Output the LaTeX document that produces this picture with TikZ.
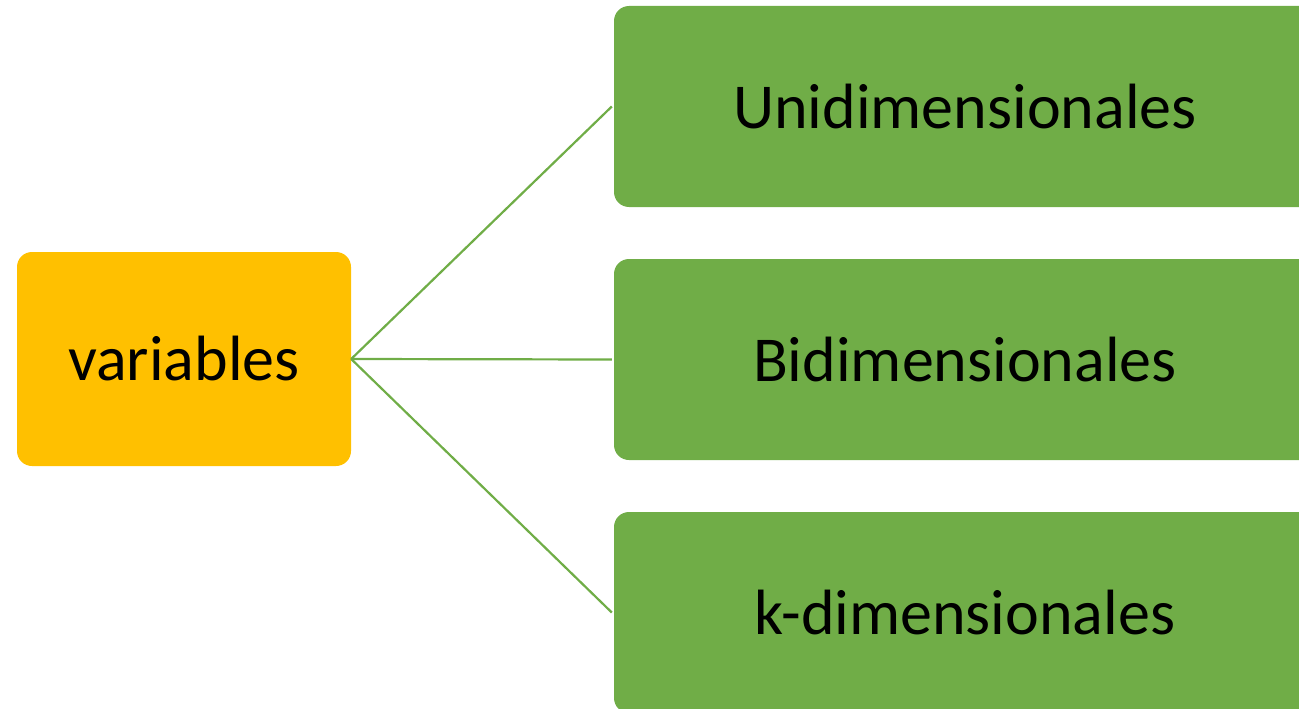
\documentclass[tikz,border=0pt]{standalone}
\usepackage{fontspec}
\setmainfont{Carlito}
\definecolor{leafgreen}{HTML}{70AD47}
\definecolor{rootgold}{HTML}{FFC000}
\tikzset{
  rootbox/.style={fill=rootgold, rounded corners=15pt, inner sep=0pt,
    minimum width=334pt, minimum height=214pt,
    font=\fontsize{64}{70}\selectfont},
  leafbox/.style={fill=leafgreen, rounded corners=15pt, inner sep=0pt,
    minimum width=702pt, minimum height=201pt,
    font=\fontsize{64}{70}\selectfont},
  link/.style={draw=leafgreen, line width=2.2pt}
}
\begin{document}
\begin{tikzpicture}[x=1pt, y=-1pt]
  \useasboundingbox (0,0) rectangle (1299,709);
  \clip (0,0) rectangle (1299,709);
  \node[rootbox] (root) at (184,359) {variables};
  \node[leafbox] (uni) at (965,106.5) {Unidimensionales};
  \node[leafbox] (bi) at (965,359.5) {Bidimensionales};
  \node[leafbox] (kd) at (965,612.5) {k-dimensionales};
  \draw[link] (root.east) -- ([xshift=-2pt]uni.west);
  \draw[link] (root.east) -- ([xshift=-2pt]bi.west);
  \draw[link] (root.east) -- ([xshift=-2pt]kd.west);
\end{tikzpicture}
\end{document}
